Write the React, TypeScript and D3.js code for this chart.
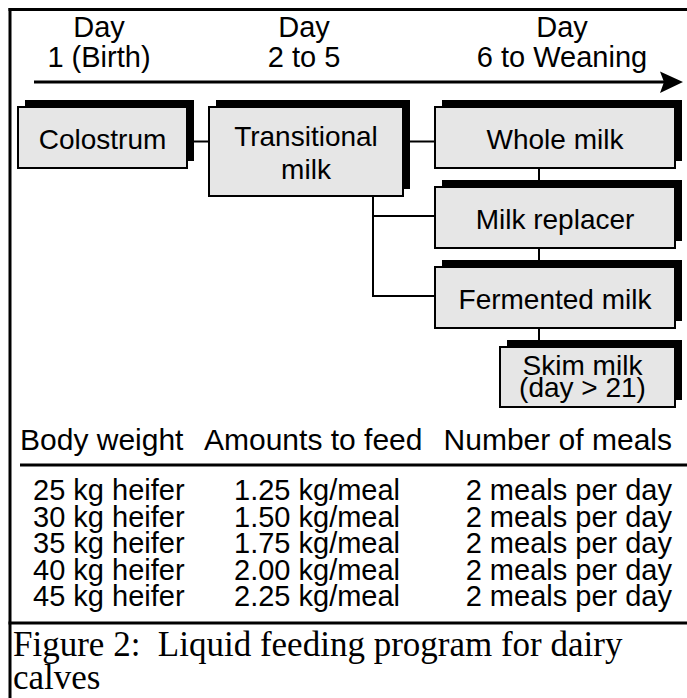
import React from "react";
import * as d3 from "d3";

// stages along the top timeline
const stageDays = ["1 (Birth)", "2 to 5", "6 to Weaning"];

// feeding options, one box each
const feedLabels = [
  ["Colostrum"],
  ["Transitional", "milk"],
  ["Whole milk"],
  ["Milk replacer"],
  ["Fermented milk"],
  ["Skim milk", "(day > 21)"],
];
const feedStage = [0, 1, 2, 2, 2, 2];
const feedRow = [0, 0, 0, 1, 2, 3];

// connectors between boxes (from, to)
const links = [
  [0, 1],
  [1, 2],
  [2, 3],
  [3, 4],
  [4, 5],
  [1, 3],
  [1, 4],
];

// feeding table
const tableHeaders = ["Body weight", "Amounts to feed", "Number of meals"];
const bodyWeights = [25, 30, 35, 40, 45];
const feedAmounts = [1.25, 1.5, 1.75, 2.0, 2.25];
const mealsPerDay = [2, 2, 2, 2, 2];

const caption = ["Figure 2:  Liquid feeding program for dairy", "calves"];

const W = 687;
const H = 698;
const sans = "'Liberation Sans', Arial, Helvetica, sans-serif";
const serif = "'Liberation Serif', 'Times New Roman', serif";

// keep double spaces in svg text
const keepSpaces = (s: string) => s.replace(/ {2}/g, " \u00a0");

const App = () => {
  // header text centres
  const stageX = d3.scaleOrdinal<number, number>().domain([0, 1, 2]).range([99, 304, 562]);

  // box geometry
  const boxLeft = d3.scaleOrdinal<number, number>().domain([0, 1, 2]).range([18, 209, 435]);
  const boxRight = d3.scaleOrdinal<number, number>().domain([0, 1, 2]).range([187, 403, 675]);
  const rowY = d3.scaleLinear().domain([0, 3]).range([107, 347]);
  const rowH = 61;
  const shadow = 7;

  const boxes = feedLabels.map((lines, i) => {
    const s = feedStage[i];
    const r = feedRow[i];
    let x0 = boxLeft(s);
    const x1 = boxRight(s);
    const y0 = rowY(r);
    let h = rowH;
    if (s === 1) h = 89;
    if (r === 3) {
      x0 = 500;
      h = 60;
    }
    return { lines, x0, x1, y0, y1: y0 + h, s, r };
  });

  const trunkX = 373; // vertical line under transitional milk
  const stackX = 539; // vertical line through the day-6 stack

  const linkPath = ([a, b]: number[]) => {
    const A = boxes[a];
    const B = boxes[b];
    if (A.s !== B.s) {
      if (A.r === B.r) {
        const y = 141.5;
        return d3.line()([
          [A.x1, y],
          [B.x0, y],
        ]);
      }
      // elbow from under the transitional box
      const yB = (B.y0 + B.y1) / 2 - 1.5;
      return d3.line()([
        [trunkX, A.y1],
        [trunkX, yB],
        [B.x0, yB],
      ]);
    }
    return d3.line()([
      [stackX, A.y1],
      [stackX, B.y0],
    ]);
  };

  // table layout
  const rowBase = d3.scaleLinear().domain([0, bodyWeights.length - 1]).range([500, 606]);
  const fmt = d3.format(".2f");

  return (
    <svg
      width={W}
      height={H}
      style={{ position: "absolute", left: 0, top: 0, background: "#fff" }}
    >
      {/* frame */}
      <line x1={8.5} x2={W} y1={9.5} y2={9.5} stroke="#000" strokeWidth={3} />
      <line x1={10} x2={10} y1={8} y2={H} stroke="#000" strokeWidth={3} />

      {/* timeline header */}
      <g fontFamily={sans} fontSize={29} textAnchor="middle" fill="#000">
        {stageDays.map((d, i) => (
          <g key={d}>
            <text x={stageX(i)} y={37}>Day</text>
            <text x={stageX(i)} y={67}>{d}</text>
          </g>
        ))}
      </g>
      <line x1={34} x2={664} y1={82} y2={82} stroke="#000" strokeWidth={3} />
      <path d="M660,71.5 L683,82 L660,93 L664,82 Z" fill="#000" />

      {/* connectors */}
      <g fill="none" stroke="#000" strokeWidth={2}>
        {links.map((l, i) => (
          <path key={i} d={linkPath(l) ?? ""} />
        ))}
      </g>

      {/* boxes */}
      {boxes.map((b, i) => {
        const cx = (b.x0 + b.x1) / 2;
        const cy = (b.y0 + b.y1) / 2;
        const tight = b.r === 3;
        const lh = tight ? 22 : 33;
        const first = cy + (tight ? 9 : 11) - ((b.lines.length - 1) * lh) / 2;
        return (
          <g key={i}>
            <rect
              x={b.x0 + shadow}
              y={b.y0 - shadow}
              width={b.x1 - b.x0}
              height={b.y1 - b.y0}
              fill="#000"
            />
            <rect
              x={b.x0}
              y={b.y0}
              width={b.x1 - b.x0}
              height={b.y1 - b.y0}
              fill="#e6e6e6"
              stroke="#000"
              strokeWidth={2}
            />
            {b.lines.map((t, j) => (
              <text
                key={j}
                x={cx - (tight ? 5 : 0)}
                y={first + j * lh}
                textAnchor="middle"
                fontFamily={sans}
                fontSize={28}
              >
                {t}
              </text>
            ))}
          </g>
        );
      })}

      {/* table */}
      <g fontFamily={sans} fill="#000">
        <text x={20} y={450} fontSize={30}>{tableHeaders[0]}</text>
        <text x={204} y={450} fontSize={30}>{tableHeaders[1]}</text>
        <text x={672} y={450} fontSize={30} textAnchor="end">{tableHeaders[2]}</text>
        <line x1={20} x2={W} y1={465} y2={465} stroke="#000" strokeWidth={3} />
        {bodyWeights.map((w, i) => (
          <g key={w} fontSize={29}>
            <text x={33} y={rowBase(i)}>{`${w} kg heifer`}</text>
            <text x={234} y={rowBase(i)}>{`${fmt(feedAmounts[i])} kg/meal`}</text>
            <text x={672} y={rowBase(i)} textAnchor="end">{`${mealsPerDay[i]} meals per day`}</text>
          </g>
        ))}
      </g>
      <line x1={8.5} x2={W} y1={623} y2={623} stroke="#000" strokeWidth={3} />

      {/* caption */}
      <g fontFamily={serif} fontSize={35} fill="#000">
        <text x={13} y={656}>{keepSpaces(caption[0])}</text>
        <text x={13} y={689}>{caption[1]}</text>
      </g>
    </svg>
  );
};

export default App;
